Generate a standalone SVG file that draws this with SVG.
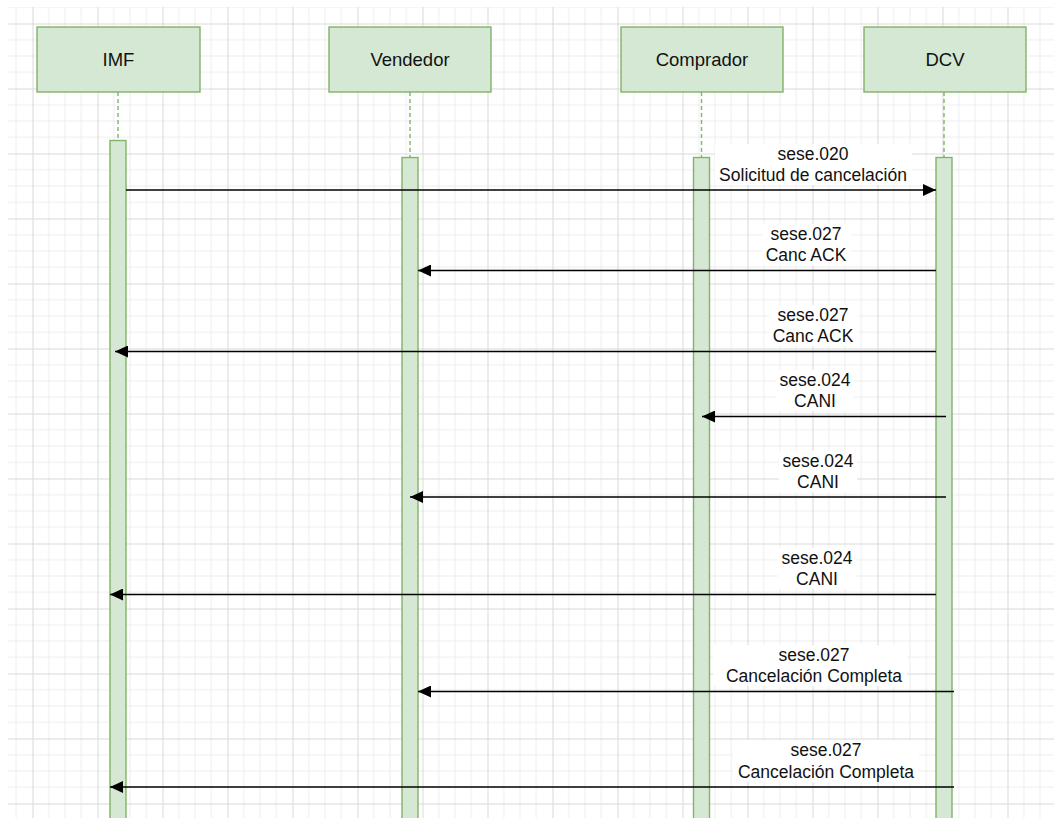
<svg xmlns="http://www.w3.org/2000/svg" width="1054" height="818" viewBox="0 0 1054 818">
<defs>
<pattern id="grid" patternUnits="userSpaceOnUse" x="32.5" y="23.5" width="65" height="65">
<g stroke="#ececec" stroke-width="1">
<line x1="16.25" y1="0" x2="16.25" y2="65"/>
<line x1="32.5" y1="0" x2="32.5" y2="65"/>
<line x1="48.75" y1="0" x2="48.75" y2="65"/>
<line x1="0" y1="16.25" x2="65" y2="16.25"/>
<line x1="0" y1="32.5" x2="65" y2="32.5"/>
<line x1="0" y1="48.75" x2="65" y2="48.75"/>
</g>
<g stroke="#d9d9d9" stroke-width="1">
<line x1="0.5" y1="0" x2="0.5" y2="65"/>
<line x1="0" y1="0.5" x2="65" y2="0.5"/>
</g>
</pattern>
<marker id="ah" viewBox="0 0 13 12" refX="13" refY="6" markerWidth="13" markerHeight="12" markerUnits="userSpaceOnUse" orient="auto">
<path d="M0,0 L13,6 L0,12 Z" fill="#000"/>
</marker>
</defs>
<style>
.box{fill:#d5e8d4;stroke:#82b366;stroke-width:1.4}
.bar{fill:#d5e8d4;stroke:#82b366;stroke-width:1.4}
.life{stroke:#82b366;stroke-width:1.4;stroke-dasharray:4 3;fill:none}
.hd{font-family:"Liberation Sans",Arial,sans-serif;font-size:18.5px;fill:#111;text-anchor:middle}
.lb{font-family:"Liberation Sans",Arial,sans-serif;font-size:17.5px;fill:#111;text-anchor:middle}
.bg{fill:#ffffff}
.msg{stroke:#000;stroke-width:1.4;fill:none;marker-end:url(#ah)}
</style>
<rect x="0" y="0" width="1054" height="818" fill="#ffffff"/>
<rect x="8" y="7" width="1046" height="811" fill="url(#grid)"/>

<g id="IMF">
<rect class="box" x="37" y="27" width="163" height="65"/>
<text class="hd" x="118.5" y="66">IMF</text>
<line class="life" x1="118" y1="92" x2="118" y2="140"/>
<rect class="bar" x="110" y="140.5" width="16" height="690"/>
</g>
<g id="Vendedor">
<rect class="box" x="329" y="27" width="162" height="65"/>
<text class="hd" x="410" y="66">Vendedor</text>
<line class="life" x1="410" y1="92" x2="410" y2="157"/>
<rect class="bar" x="402" y="157.5" width="16" height="680"/>
</g>
<g id="Comprador">
<rect class="box" x="621" y="27" width="162" height="65"/>
<text class="hd" x="702" y="66">Comprador</text>
<line class="life" x1="701.5" y1="92" x2="701.5" y2="157"/>
<rect class="bar" x="693.5" y="157.5" width="16" height="680"/>
</g>
<g id="DCV">
<rect class="box" x="864" y="27" width="162" height="65"/>
<text class="hd" x="945" y="66">DCV</text>
<line class="life" x1="944" y1="92" x2="944" y2="157"/>
<rect class="bar" x="936" y="157.5" width="16" height="680"/>
</g>

<g id="connectors">
<line class="msg" x1="126" y1="190" x2="936" y2="190"/>
<line class="msg" x1="936" y1="270.5" x2="418" y2="270.5"/>
<line class="msg" x1="936" y1="351.5" x2="115" y2="351.5"/>
<line class="msg" x1="946" y1="416.5" x2="702" y2="416.5"/>
<line class="msg" x1="946" y1="497" x2="410" y2="497"/>
<line class="msg" x1="936" y1="594.5" x2="110" y2="594.5"/>
<line class="msg" x1="954" y1="691.5" x2="418" y2="691.5"/>
<line class="msg" x1="954" y1="787" x2="110" y2="787"/>
</g>

<g id="labels">
<rect class="bg" x="715" y="144" width="197" height="41"/>
<text class="lb" x="813" y="160">sese.020</text>
<text class="lb" x="813" y="181">Solicitud de cancelación</text>

<rect class="bg" x="762" y="224" width="89" height="41"/>
<text class="lb" x="806" y="240">sese.027</text>
<text class="lb" x="806" y="261">Canc ACK</text>

<rect class="bg" x="769" y="305" width="89" height="41"/>
<text class="lb" x="813" y="321">sese.027</text>
<text class="lb" x="813" y="342">Canc ACK</text>

<rect class="bg" x="776" y="370" width="78" height="41"/>
<text class="lb" x="815" y="386">sese.024</text>
<text class="lb" x="815" y="407">CANI</text>

<rect class="bg" x="779" y="451" width="78" height="41"/>
<text class="lb" x="818" y="467">sese.024</text>
<text class="lb" x="818" y="488">CANI</text>

<rect class="bg" x="778" y="548" width="78" height="41"/>
<text class="lb" x="817" y="564">sese.024</text>
<text class="lb" x="817" y="585">CANI</text>

<rect class="bg" x="713" y="645" width="194" height="41"/>
<text class="lb" x="814" y="661">sese.027</text>
<text class="lb" x="814" y="682">Cancelación Completa</text>

<rect class="bg" x="733" y="740" width="186" height="42"/>
<text class="lb" x="826" y="756">sese.027</text>
<text class="lb" x="826" y="778">Cancelación Completa</text>
</g>
</svg>
